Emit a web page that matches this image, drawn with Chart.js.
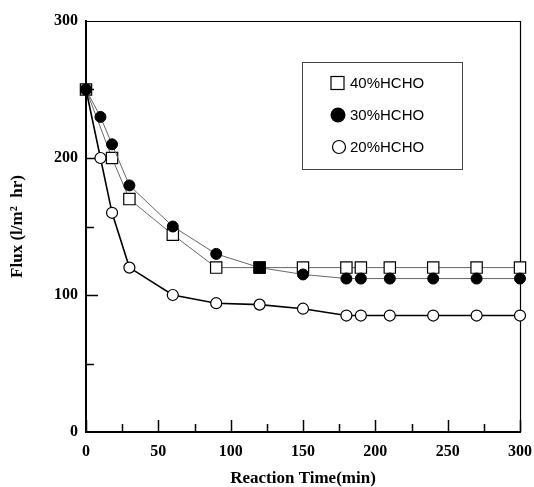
<!DOCTYPE html>
<html>
<head>
<meta charset="utf-8">
<script src="https://cdn.jsdelivr.net/npm/chart.js@4"></script>
<style>
  body { margin: 0; background: #fff; }
</style>
</head>
<body>
<canvas id="flux" width="534" height="487"></canvas>
<script>
// reaction time (min) and flux values
var times40 = [0, 18, 30, 60, 90, 120, 150, 180, 190, 210, 240, 270, 300];
var flux40  = [250, 200, 170, 144, 120, 120, 120, 120, 120, 120, 120, 120, 120];

var times30 = [0, 10, 18, 30, 60, 90, 120, 150, 180, 190, 210, 240, 270, 300];
var flux30  = [250, 230, 210, 180, 150, 130, 120, 115, 112, 112, 112, 112, 112, 112];

var times20 = [0, 10, 18, 30, 60, 90, 120, 150, 180, 190, 210, 240, 270, 300];
var flux20  = [250, 200, 160, 120, 100, 94, 93, 90, 85, 85, 85, 85, 85, 85];

var seriesNames = ['40%HCHO', '30%HCHO', '20%HCHO'];

function pts(xs, ys) {
  return xs.map(function (x, i) { return { x: x, y: ys[i] }; });
}

var serif = '"Liberation Serif", "Times New Roman", serif';

// inside tick marks, top/right frame and the boxed legend
var frameAndLegend = {
  id: 'frameAndLegend',
  beforeDatasetsDraw: function (chart) {
    var ctx = chart.ctx, a = chart.chartArea;
    var xs = chart.scales.x, ys = chart.scales.y;
    ctx.save();
    ctx.strokeStyle = '#000';
    ctx.lineWidth = 1.5;
    ctx.beginPath();
    for (var v = 0; v <= 300; v += 25) {
      var px = Math.round(xs.getPixelForValue(v)) + 0.5;
      var len = v % 50 === 0 ? 12 : 8;
      ctx.moveTo(px, a.bottom);
      ctx.lineTo(px, a.bottom - len);
    }
    for (var w = 50; w < 300; w += 50) {
      var py = Math.round(ys.getPixelForValue(w)) + 0.5;
      var l2 = w % 100 === 0 ? 12 : 8;
      ctx.moveTo(a.left, py);
      ctx.lineTo(a.left + l2, py);
    }
    ctx.stroke();

    // frame top and right
    ctx.lineWidth = 1.2;
    ctx.beginPath();
    ctx.moveTo(a.left, a.top + 0.5);
    ctx.lineTo(a.right + 0.5, a.top + 0.5);
    ctx.lineTo(a.right + 0.5, a.bottom);
    ctx.stroke();
    ctx.restore();
  },
  afterDatasetsDraw: function (chart) {
    var ctx = chart.ctx;
    ctx.save();
    // legend box
    ctx.lineWidth = 1;
    ctx.strokeStyle = '#444';
    ctx.strokeRect(302.5, 62.5, 160, 107);
    ctx.font = '15px "Liberation Sans", Arial, sans-serif';
    ctx.textBaseline = 'middle';
    ctx.strokeStyle = '#000';
    ctx.lineWidth = 1.2;
    var rows = [83, 115, 147];
    // square
    ctx.fillStyle = '#fff';
    ctx.fillRect(331, 76.5, 13, 13);
    ctx.strokeRect(331, 76.5, 13, 13);
    // filled circle
    ctx.fillStyle = '#000';
    ctx.beginPath();
    ctx.arc(338, rows[1], 7.5, 0, Math.PI * 2);
    ctx.fill();
    // open circle
    ctx.fillStyle = '#fff';
    ctx.beginPath();
    ctx.arc(339, rows[2], 6.5, 0, Math.PI * 2);
    ctx.fill();
    ctx.stroke();
    ctx.fillStyle = '#000';
    for (var i = 0; i < seriesNames.length; i++) {
      ctx.fillText(seriesNames[i], 350, rows[i] + 1);
    }
    ctx.restore();
  }
};

var ctx = document.getElementById('flux').getContext('2d');

var myChart = new Chart(ctx, {
  type: 'line',
  data: {
    datasets: [{
      label: seriesNames[0],
      data: pts(times40, flux40),
      order: 2,
      borderColor: '#666',
      borderWidth: 1,
      pointStyle: 'rect',
      pointRadius: 8,
      pointBackgroundColor: '#fff',
      pointBorderColor: '#000',
      pointBorderWidth: 1.2,
      clip: false
    }, {
      label: seriesNames[1],
      data: pts(times30, flux30),
      order: 0,
      borderColor: '#666',
      borderWidth: 1,
      // at 120 min the filled marker overlaps the square and shows as a filled square
      pointStyle: times30.map(function (t) { return t === 120 ? 'rect' : 'circle'; }),
      pointRadius: times30.map(function (t) { return t === 120 ? 8 : 5.5; }),
      pointBackgroundColor: '#000',
      pointBorderColor: '#000',
      pointBorderWidth: 1,
      clip: false
    }, {
      label: seriesNames[2],
      data: pts(times20, flux20),
      order: 1,
      borderColor: '#000',
      borderWidth: 1.6,
      pointStyle: 'circle',
      pointRadius: 5.5,
      pointBackgroundColor: '#fff',
      pointBorderColor: '#000',
      pointBorderWidth: 1.2,
      clip: false
    }]
  },
  options: {
    responsive: false,
    animation: false,
    layout: { autoPadding: false, padding: { top: 21, right: 14, left: 0, bottom: 0 } },
    plugins: { legend: { display: false }, tooltip: { enabled: false } },
    elements: { line: { tension: 0 } },
    scales: {
      x: {
        type: 'linear',
        min: 0, max: 300,
        grid: { display: false, drawTicks: false },
        border: { display: true, color: '#000', width: 2 },
        ticks: {
          stepSize: 50,
          padding: 10,
          color: '#000',
          maxRotation: 0,
          font: { family: serif, size: 16, weight: 'bold' }
        },
        title: {
          display: true,
          text: 'Reaction Time(min)',
          color: '#000',
          padding: 0,
          font: { family: serif, size: 17, weight: 'bold', lineHeight: 1 }
        },
        afterFit: function (s) {
          s.height = 55;
          s.paddingLeft = 0;
          s.paddingRight = 0;
        }
      },
      y: {
        min: 0, max: 300,
        grid: { display: false, drawTicks: false },
        border: { display: true, color: '#000', width: 2 },
        ticks: {
          stepSize: 50,
          padding: 8,
          color: '#000',
          font: { family: serif, size: 16, weight: 'bold' },
          callback: function (v) { return v % 100 === 0 ? v : ''; }
        },
        title: {
          display: true,
          text: 'Flux (l/m\u00B2  hr)',
          color: '#000',
          padding: { top: 9, bottom: 9 },
          font: { family: serif, size: 17, weight: 'bold', lineHeight: 1 }
        },
        afterFit: function (s) {
          s.width = 86;
          s.paddingTop = 0;
          s.paddingBottom = 0;
        }
      }
    }
  },
  plugins: [frameAndLegend]
});
</script>
</body>
</html>
